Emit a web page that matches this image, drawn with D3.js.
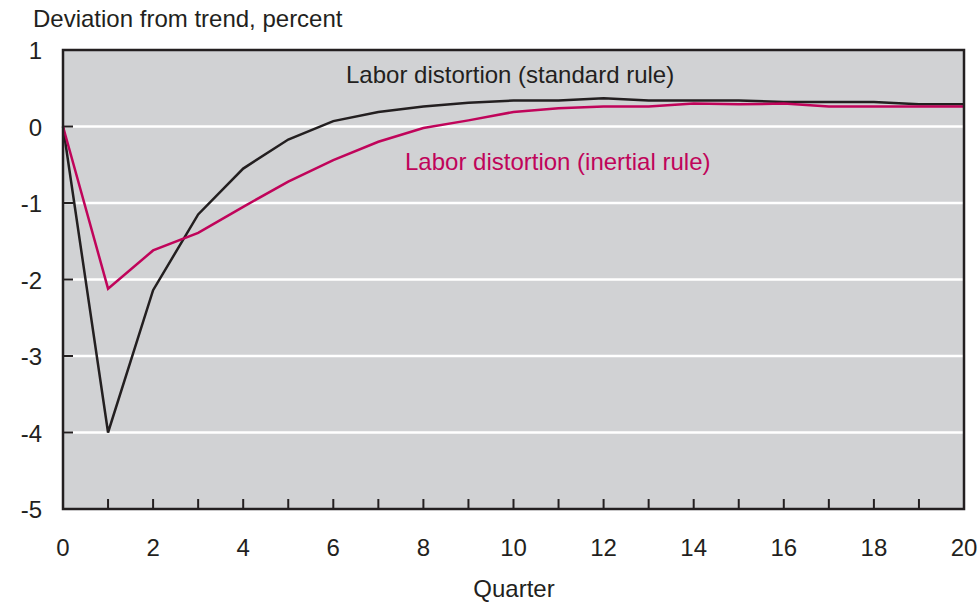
<!DOCTYPE html>
<html><head><meta charset="utf-8">
<script src="https://cdn.jsdelivr.net/npm/d3@7"></script>
<style>body{margin:0;background:#fff}svg{display:block}text{font-family:Arial,"Liberation Sans",sans-serif}</style>
</head><body><svg id="c" width="978" height="603"></svg>
<script>
const quarters = d3.range(0, 21);
const standardRule = [0, -4.0, -2.14, -1.15, -0.55, -0.17, 0.07, 0.19, 0.26, 0.31, 0.34, 0.34, 0.37, 0.34, 0.34, 0.34, 0.32, 0.32, 0.32, 0.29, 0.29];
const inertialRule = [0, -2.12, -1.62, -1.39, -1.05, -0.72, -0.44, -0.20, -0.02, 0.08, 0.19, 0.24, 0.26, 0.26, 0.30, 0.29, 0.30, 0.26, 0.26, 0.26, 0.26];
const yTicks = [1, 0, -1, -2, -3, -4, -5];
const xTicks = [0, 2, 4, 6, 8, 10, 12, 14, 16, 18, 20];
const seriesNames = ["Labor distortion (standard rule)", "Labor distortion (inertial rule)"];

const svg = d3.select("#c");
const L = 63, R = 964, T = 50, B = 509;
const x = d3.scaleLinear().domain([0, 20]).range([L, R]);
const y = d3.scaleLinear().domain([-5, 1]).range([B, T]);
const red = "#c0045a";
const ink = "#231f20";

svg.append("rect").attr("x", L).attr("y", T).attr("width", R - L).attr("height", B - T).attr("fill", "#d1d2d4");

svg.append("g").selectAll("line").data(yTicks.filter(d => d > -5 && d < 1)).join("line")
  .attr("x1", L).attr("x2", R).attr("y1", d => y(d)).attr("y2", d => y(d))
  .attr("stroke", "#fff").attr("stroke-width", 2.5);

svg.append("g").selectAll("line").data(yTicks.filter(d => d > -5 && d < 1)).join("line")
  .attr("x1", L).attr("x2", L + 10).attr("y1", d => y(d)).attr("y2", d => y(d))
  .attr("stroke", ink).attr("stroke-width", 2);
svg.append("g").selectAll("line").data(quarters.filter(d => d > 0 && d < 20)).join("line")
  .attr("x1", d => x(d)).attr("x2", d => x(d)).attr("y1", B).attr("y2", B - 10)
  .attr("stroke", ink).attr("stroke-width", 2);

const line = d3.line().x((d, i) => x(quarters[i])).y(d => y(d));
svg.append("path").datum(standardRule).attr("d", line).attr("fill", "none").attr("stroke", ink).attr("stroke-width", 2.5);
svg.append("path").datum(inertialRule).attr("d", line).attr("fill", "none").attr("stroke", red).attr("stroke-width", 2.5);

svg.append("rect").attr("x", L).attr("y", T).attr("width", R - L).attr("height", B - T).attr("fill", "none").attr("stroke", ink).attr("stroke-width", 2.5);

svg.append("g").selectAll("text").data(yTicks).join("text")
  .attr("x", 42).attr("y", d => y(d) + 9).attr("text-anchor", "end").attr("font-size", 24).attr("fill", ink).text(d => d);
svg.append("g").selectAll("text").data(xTicks).join("text")
  .attr("x", d => x(d)).attr("y", 556).attr("text-anchor", "middle").attr("font-size", 24).attr("fill", ink).text(d => d);

svg.append("text").attr("x", 33).attr("y", 27).attr("font-size", 24).attr("fill", ink).text("Deviation from trend, percent");
svg.append("text").attr("x", 514).attr("y", 597).attr("text-anchor", "middle").attr("font-size", 24).attr("fill", ink).text("Quarter");

svg.append("text").attr("x", 346).attr("y", 83).attr("font-size", 24).attr("fill", ink).text(seriesNames[0]);
svg.append("text").attr("x", 405).attr("y", 170).attr("font-size", 24).attr("fill", red).text(seriesNames[1]);
</script></body></html>
